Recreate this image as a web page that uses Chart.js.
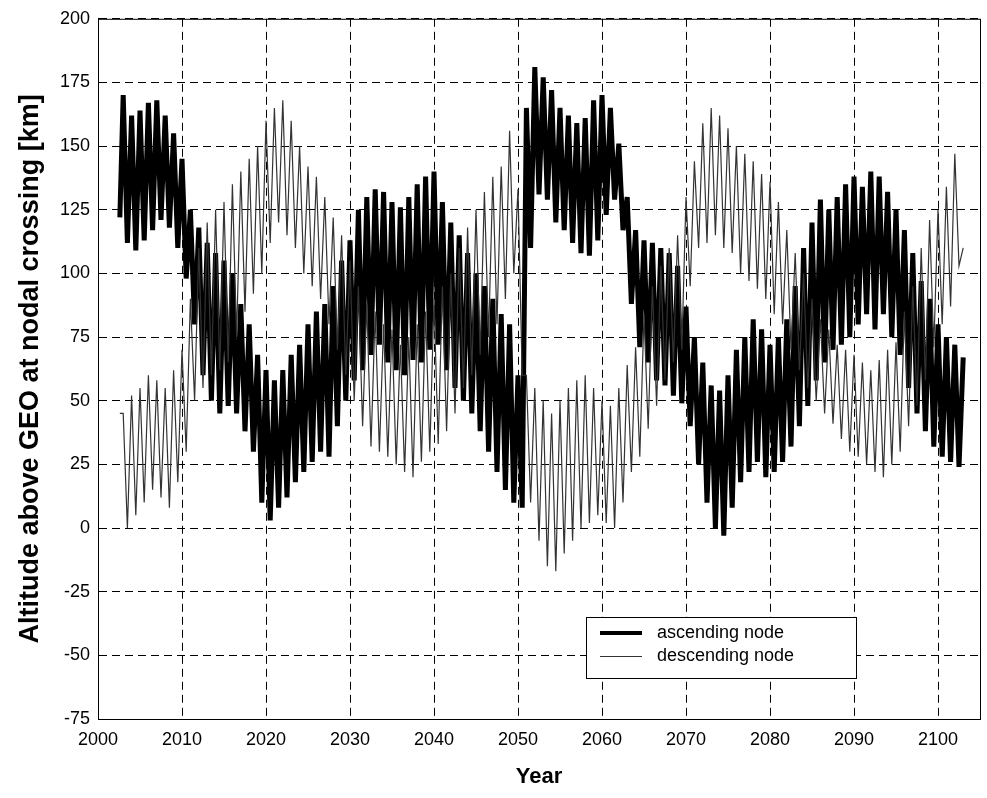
<!DOCTYPE html>
<html>
<head>
<meta charset="utf-8">
<script src="https://cdn.jsdelivr.net/npm/chart.js@4/dist/chart.umd.min.js"></script>
<style>
  body { margin: 0; background: #fff; }
</style>
</head>
<body>
<canvas id="nodal" width="987" height="798"></canvas>
<script>
// one peak and one trough per year
const firstYear = 2003;
const ascStart = 122;
const ascPeak = [170,162,164,167,168,162,155,145,125,118,
    112,108,105,100,88,80,68,62,58,62,
    68,72,80,85,88,95,105,113,125,130,
    133,132,128,126,130,135,138,140,128,120,
    115,108,100,95,90,84,80,60,165,181,
    177,172,165,162,159,161,168,170,165,151,
    130,117,113,112,110,108,103,87,75,65,
    56,54,60,70,75,82,78,72,75,82,
    95,110,120,129,125,130,135,138,134,140,
    138,132,125,117,108,97,90,80,75,72,
    67];
const ascTrough = [112,109,113,117,121,118,110,98,80,60,
    50,45,48,45,38,30,10,3,8,12,
    18,22,26,30,28,40,50,58,62,68,
    72,65,62,60,66,65,70,72,62,55,
    50,45,38,30,22,15,10,8,110,131,
    129,120,117,112,108,107,113,123,129,117,
    88,71,65,58,56,52,49,40,25,10,
    0,-3,8,18,22,26,20,22,26,32,
    40,48,58,65,70,72,75,80,84,78,
    84,75,68,55,45,38,32,28,26,24];

const descStart = 45;
const descPeak = [45,52,55,60,58,55,62,70,90,110,
    120,125,128,135,140,145,150,160,165,168,
    160,150,142,138,130,122,115,105,95,88,
    85,80,78,72,75,80,85,90,95,100,
    110,118,125,132,138,142,156,133,60,55,
    50,45,50,55,58,60,55,50,48,55,
    64,71,84,95,103,110,115,130,144,159,
    165,162,157,150,147,144,139,136,128,117,
    108,100,90,82,78,72,70,68,65,62,
    66,70,73,85,95,110,121,125,134,147,
    110];
const descTrough = [0,5,10,15,12,8,18,30,50,55,
    60,62,65,75,85,92,100,112,120,115,
    110,100,95,90,80,70,60,50,40,32,
    30,28,25,22,20,26,30,33,38,45,
    55,60,68,75,80,90,100,60,10,-5,
    -15,-17,-10,-5,0,2,5,2,0,10,
    22,28,39,48,58,65,70,95,110,112,
    115,110,108,100,97,94,90,84,80,70,
    62,55,50,45,41,35,30,28,25,22,
    20,25,30,40,48,58,71,80,87,103];

const yTicks = [-75,-50,-25,0,25,50,75,100,125,150,175,200];
const xTicks = [2000,2010,2020,2030,2040,2050,2060,2070,2080,2090,2100];

const buildSeries = (start, peaks, troughs) => {
    const pts = [{x: firstYear - 0.4, y: start}];
    peaks.forEach((p, i) => {
        pts.push({x: firstYear + i, y: p});
        if (i < troughs.length) pts.push({x: firstYear + i + 0.5, y: troughs[i]});
    });
    return pts;
};

const frameAndLegend = {
    id: 'frameAndLegend',
    afterDraw(chart) {
        const {ctx, chartArea: a} = chart;
        ctx.save();
        ctx.strokeStyle = '#000';
        ctx.lineWidth = 1;
        ctx.setLineDash([]);
        ctx.strokeRect(a.left + 0.5, a.top + 0.5, a.right - a.left, a.bottom - a.top);

        // legend box
        const bx = 586, by = 617, bw = 270, bh = 61;
        ctx.fillStyle = '#fff';
        ctx.fillRect(bx, by, bw, bh);
        ctx.strokeRect(bx + 0.5, by + 0.5, bw, bh);
        ctx.beginPath();
        ctx.lineWidth = 4;
        ctx.moveTo(600, 633); ctx.lineTo(642, 633);
        ctx.stroke();
        ctx.beginPath();
        ctx.lineWidth = 1;
        ctx.strokeStyle = '#333';
        ctx.moveTo(600, 656.5); ctx.lineTo(642, 656.5);
        ctx.stroke();
        ctx.fillStyle = '#000';
        ctx.font = '18px "Liberation Sans", Arial, sans-serif';
        ctx.textBaseline = 'middle';
        ctx.fillText('ascending node', 657, 633);
        ctx.fillText('descending node', 657, 656);
        ctx.restore();
    }
};

const ctx = document.getElementById('nodal').getContext('2d');
new Chart(ctx, {
    type: 'line',
    data: {
        datasets: [
            {
                label: 'ascending node',
                data: buildSeries(ascStart, ascPeak, ascTrough),
                borderColor: '#000',
                borderWidth: 5,
                pointRadius: 0,
                tension: 0,
                order: 2
            },
            {
                label: 'descending node',
                data: buildSeries(descStart, descPeak, descTrough),
                borderColor: '#333',
                borderWidth: 1.2,
                pointRadius: 0,
                tension: 0,
                order: 1
            }
        ]
    },
    options: {
        responsive: false,
        animation: false,
        events: [],
        layout: { padding: { top: 16, right: 7, left: 0, bottom: 0 } },
        plugins: { legend: { display: false }, tooltip: { enabled: false } },
        scales: {
            x: {
                type: 'linear',
                min: 2000,
                max: 2105,
                afterBuildTicks: s => { s.ticks = xTicks.map(v => ({value: v})); },
                afterFit: s => { s.height = 79; },
                ticks: {
                    callback: v => String(v),
                    color: '#000',
                    padding: 10,
                    maxRotation: 0,
                    autoSkip: false,
                    font: { family: '"Liberation Sans", Arial, sans-serif', size: 18 }
                },
                grid: { color: '#000', lineWidth: 1, drawTicks: false },
                border: { color: '#000', width: 1, dash: [8, 5] },
                title: {
                    display: true,
                    text: 'Year',
                    color: '#000',
                    padding: { top: 0, bottom: 8 },
                    font: { family: '"Liberation Sans", Arial, sans-serif', size: 22, weight: 'bold' }
                }
            },
            y: {
                min: -75,
                max: 200,
                afterBuildTicks: s => { s.ticks = yTicks.map(v => ({value: v})); },
                afterFit: s => { s.width = 98; },
                ticks: {
                    color: '#000',
                    padding: 8,
                    autoSkip: false,
                    font: { family: '"Liberation Sans", Arial, sans-serif', size: 18 }
                },
                grid: { color: '#000', lineWidth: 1, drawTicks: false },
                border: { color: '#000', width: 1, dash: [8, 5] },
                title: {
                    display: true,
                    text: 'Altitude above GEO at nodal crossing [km]',
                    color: '#000',
                    padding: { top: 14, bottom: 0 },
                    font: { family: '"Liberation Sans", Arial, sans-serif', size: 27, weight: 'bold' }
                }
            }
        }
    },
    plugins: [frameAndLegend]
});
</script>
</body>
</html>
